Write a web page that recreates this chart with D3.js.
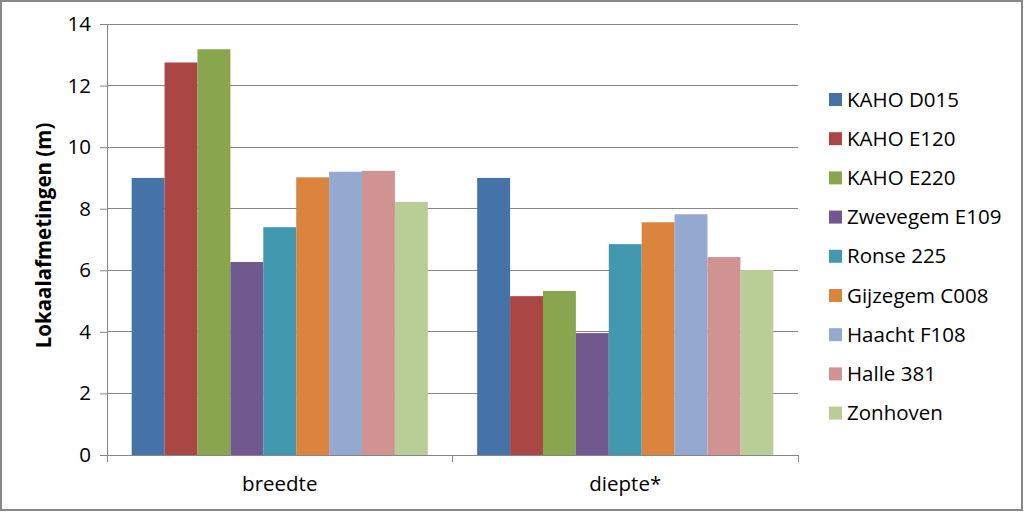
<!DOCTYPE html>
<html><head><meta charset="utf-8">
<script src="https://cdn.jsdelivr.net/npm/d3@7"></script>
<style>body{margin:0;background:#fff}svg{display:block}</style>
</head><body><svg id="c" width="1024" height="512"></svg>
<script>
const categories = ["breedte", "diepte*"];
const series = ["KAHO D015","KAHO E120","KAHO E220","Zwevegem E109","Ronse 225","Gijzegem C008","Haacht F108","Halle 381","Zonhoven"];
const breedte = [9.0, 12.75, 13.18, 6.27, 7.4, 9.02, 9.2, 9.23, 8.22];
const diepte = [9.0, 5.16, 5.33, 3.96, 6.85, 7.56, 7.82, 6.43, 6.01];
const colors = ["#4572A7","#AA4643","#89A54E","#71588F","#4198AF","#DB843D","#93A9CF","#D19392","#B9CD96"];
const yTicks = [0,2,4,6,8,10,12,14];
const yTitle = "Lokaalafmetingen (m)";

const values = [breedte, diepte];
const svg = d3.select("#c");
const font = "'Open Sans', 'Noto Sans', sans-serif";
const L = 107, R = 798, T = 24, B = 455;

svg.append("rect").attr("x",1).attr("y",1).attr("width",1021).attr("height",509)
  .attr("fill","#fff").attr("stroke","#888").attr("stroke-width",2);

const y = d3.scaleLinear().domain([0,14]).range([B,T]);
const x0 = d3.scaleBand().domain(categories).range([L,R]).paddingInner(0).paddingOuter(0);
const bw = x0.bandwidth()/(series.length+1.5);
const x1 = d3.scaleBand().domain(series).range([bw*0.75, x0.bandwidth()-bw*0.75]);

// gridlines
svg.append("g").selectAll("line").data(yTicks.slice(1)).join("line")
  .attr("x1",L).attr("x2",R).attr("y1",d=>y(d)).attr("y2",d=>y(d))
  .attr("stroke","#868686").attr("stroke-width",1).attr("shape-rendering","crispEdges");

// bars
const g = svg.append("g");
categories.forEach((c,ci)=>{
  g.append("g").attr("transform",`translate(${x0(c)},0)`)
   .selectAll("rect").data(series.map((s,i)=>({s,v:values[ci][i],col:colors[i]}))).join("rect")
   .attr("x",d=>x1(d.s)).attr("width",x1.bandwidth())
   .attr("y",d=>y(d.v)).attr("height",d=>B-y(d.v)).attr("fill",d=>d.col);
});

// y axis
const ya = svg.append("g").attr("transform",`translate(${L},0)`)
  .call(d3.axisLeft(y).tickValues(yTicks).tickSize(7).tickPadding(9).tickFormat(d3.format("d")));
ya.select(".domain").attr("stroke","#868686");
ya.selectAll(".tick line").attr("stroke","#868686");
ya.selectAll("text").attr("font-family",font).attr("font-size",20.5).attr("fill","#000");

// x axis
const xa = svg.append("g").attr("transform",`translate(0,${B})`)
  .call(d3.axisBottom(x0).tickSize(0).tickPadding(21));
xa.select(".domain").attr("stroke","#868686");
xa.selectAll("text").attr("font-family",font).attr("font-size",20.5).attr("fill","#000");
svg.append("g").selectAll("line").data([L, x0(categories[1]), R]).join("line")
  .attr("x1",d=>d).attr("x2",d=>d).attr("y1",B).attr("y2",B+7)
  .attr("stroke","#868686").attr("shape-rendering","crispEdges");

// y title
svg.append("text").attr("transform",`translate(51,${(T+B)/2-4}) rotate(-90)`)
  .attr("text-anchor","middle").attr("font-family",font).attr("font-weight","bold")
  .attr("font-size",20.5).text(yTitle);

// legend
const lg = svg.append("g");
series.forEach((s,i)=>{
  const cy = 99.5 + i*39.2;
  lg.append("rect").attr("x",829).attr("y",cy-6.5).attr("width",13).attr("height",13).attr("fill",colors[i]);
  lg.append("text").attr("x",847).attr("y",cy).attr("dy","0.35em")
    .attr("font-family",font).attr("font-size",20.5).text(s);
});
</script></body></html>
